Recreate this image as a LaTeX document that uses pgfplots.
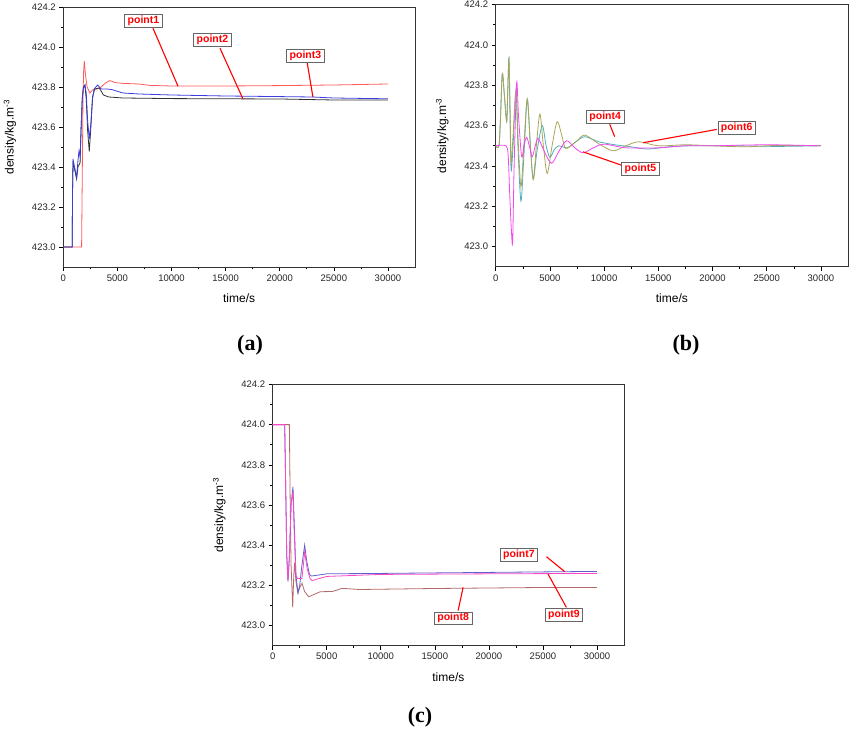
\documentclass[border=0pt]{standalone}
\usepackage{pgfplots}
\pgfplotsset{compat=1.18}
\usepackage{fontspec}
\setmainfont{Liberation Sans}
\newfontfamily\capfont{Liberation Serif}

\definecolor{cred}{RGB}{255,90,90}
\definecolor{cblue}{RGB}{60,60,225}
\definecolor{cblack}{RGB}{50,50,50}
\definecolor{colive}{RGB}{170,165,90}
\definecolor{cteal}{RGB}{80,175,185}
\definecolor{cmag}{RGB}{245,70,240}
\definecolor{cnavy}{RGB}{95,95,205}
\definecolor{cbrown}{RGB}{180,105,105}
\definecolor{cpink}{RGB}{255,70,200}

\pgfplotsset{panel/.style={
  scale only axis,
  xmin=0, xmax=32500, ymin=422.9, ymax=424.2,
  xtick={0,5000,10000,15000,20000,25000,30000},
  ytick={423,423.2,423.4,423.6,423.8,424,424.2},
  minor x tick num=1, minor y tick num=1,
  tick pos=left, tick align=outside,
  major tick length=4pt, minor tick length=2.5pt,
  tick style={black, line width=0.6pt},
  axis line style={line width=0.8pt, black!80},
  scaled ticks=false,
  x tick label style={/pgf/number format/1000 sep={}},
  y tick label style={/pgf/number format/.cd, fixed, fixed zerofill, precision=1},
  /pgf/number format/assume math mode=true,
  tick label style={font=\fontsize{9.5}{10}\selectfont, text=black!85},
  label style={font=\fontsize{12}{13}\selectfont},
  xlabel shift=6pt, ylabel shift=9pt,
  xlabel={time/s},
  ylabel={density/kg.m\textsuperscript{-3}},
  every axis plot/.append style={line width=0.8pt, mark=none},
}}
\tikzset{ptbox/.style={draw=black!60, fill=white, line width=0.7pt, text=red,
  font=\bfseries\fontsize{10.5}{12}\selectfont, inner xsep=3pt, inner ysep=1.5pt},
  ptline/.style={red, line width=1.1pt}}

\begin{document}
\begin{tikzpicture}[x=1pt,y=1pt]
\useasboundingbox (0,0) rectangle (850,736);

% (a)
\begin{axis}[panel, at={(63.3pt,469pt)}, anchor=south west, width=351.7pt, height=260pt]
\addplot[cred] coordinates {(0,423.0) (1690,423.0) (1760,423.4) (1820,423.75) (1880,423.88) (1940,423.93) (2050,423.86) (2200,423.8) (2460,423.77) (2700,423.785) (3100,423.79) (3500,423.8) (3900,423.82) (4300,423.832) (4800,423.822) (5500,423.818) (7000,423.815) (8000,423.808) (10000,423.805) (15000,423.805) (20000,423.807) (25000,423.81) (30000,423.815)};
\addplot[cblack] coordinates {(0,423.0) (820,423.0) (860,423.3) (900,423.43) (1000,423.4) (1230,423.34) (1350,423.4) (1450,423.41) (1550,423.42) (1650,423.6) (1750,423.74) (1850,423.8) (2000,423.81) (2120,423.74) (2250,423.58) (2400,423.477) (2550,423.6) (2700,423.75) (2900,423.79) (3300,423.795) (3500,423.78) (3700,423.76) (4200,423.75) (5500,423.745) (10000,423.742) (20000,423.74) (25000,423.735) (30000,423.735)};
\addplot[cblue] coordinates {(0,423.0) (820,423.0) (860,423.3) (900,423.44) (1000,423.41) (1230,423.35) (1350,423.43) (1450,423.48) (1550,423.45) (1650,423.6) (1750,423.74) (1850,423.79) (2000,423.81) (2120,423.77) (2250,423.63) (2400,423.54) (2550,423.62) (2700,423.74) (2850,423.79) (3170,423.81) (3500,423.79) (4000,423.79) (4500,423.787) (5500,423.77) (7000,423.765) (10000,423.76) (15000,423.755) (20000,423.752) (23000,423.75) (25000,423.745) (30000,423.741)};
\draw[ptline] (axis cs:8288,424.094) -- (axis cs:10598,423.804);
\draw[ptline] (axis cs:14478,423.994) -- (axis cs:16603,423.74);
\draw[ptline] (axis cs:22516,423.929) -- (axis cs:23070,423.749);
\node[ptbox] at (axis cs:7410,424.129) {point1};
\node[ptbox] at (axis cs:13785,424.034) {point2};
\node[ptbox] at (axis cs:22378,423.957) {point3};
\end{axis}

% (b)
\begin{axis}[panel, at={(495.7pt,469.1pt)}, anchor=south west, width=352.3pt, height=262.4pt]
\addplot[cteal, smooth] coordinates {(0,423.5) (300,423.5) (450,423.65) (610,423.858) (800,423.75) (1010,423.62) (1100,423.75) (1220,423.933) (1320,423.65) (1420,423.38) (1600,423.5) (1868,423.776) (2050,423.5) (2328,423.226) (2600,423.45) (2910,423.731) (3200,423.5) (3463,423.334) (3800,423.47) (4290,423.6) (4650,423.5) (4997,423.443) (5400,423.48) (5800,423.5) (6600,423.49) (7400,423.52) (8220,423.545) (9500,423.52) (11000,423.505) (12500,423.495) (14000,423.484) (16000,423.495) (18000,423.5) (22000,423.5) (26000,423.497) (30000,423.5)};
\addplot[colive, smooth] coordinates {(0,423.5) (300,423.5) (450,423.65) (610,423.858) (800,423.75) (1010,423.62) (1100,423.75) (1220,423.933) (1320,423.7) (1420,423.42) (1600,423.55) (1868,423.776) (2050,423.55) (2328,423.297) (2600,423.5) (2910,423.731) (3200,423.5) (3463,423.334) (3750,423.5) (4077,423.657) (4400,423.5) (4750,423.363) (5200,423.5) (5670,423.62) (6100,423.55) (6469,423.487) (7400,423.52) (8220,423.553) (9500,423.51) (10830,423.475) (12000,423.5) (13220,423.52) (15000,423.5) (17500,423.505) (20000,423.5) (23000,423.495) (26000,423.502) (30000,423.5)};
\addplot[cmag, smooth] coordinates {(0,423.5) (950,423.5) (1150,423.45) (1300,423.25) (1450,423.08) (1564,423.025) (1700,423.4) (1932,423.812) (2100,423.65) (2390,423.446) (2600,423.5) (2850,423.542) (3100,423.5) (3370,423.446) (3650,423.5) (3920,423.537) (4500,423.47) (5150,423.413) (5800,423.47) (6530,423.525) (7300,423.49) (8060,423.465) (9000,423.49) (10000,423.508) (12000,423.49) (15000,423.49) (17500,423.5) (20000,423.5) (25000,423.505) (30000,423.5)};
\draw[ptline] (axis cs:10518,423.607) -- (axis cs:10978,423.545);
\draw[ptline] (axis cs:20392,423.581) -- (axis cs:13583,423.515);
\draw[ptline] (axis cs:11595,423.404) -- (axis cs:8061,423.470);
\node[ptbox] at (axis cs:10104,423.644) {point4};
\node[ptbox] at (axis cs:22223,423.589) {point6};
\node[ptbox] at (axis cs:13352,423.387) {point5};
\end{axis}

% (c)
\begin{axis}[panel, at={(272.7pt,90.2pt)}, anchor=south west, width=351.3pt, height=261.4pt]
\addplot[cbrown] coordinates {(0,424.0) (1540,424.0) (1620,423.6) (1700,423.3) (1850,423.091) (1950,423.25) (2030,423.313) (2150,423.22) (2338,423.161) (2500,423.19) (2710,423.211) (2950,423.17) (3330,423.144) (3800,423.155) (4400,423.169) (5500,423.17) (6000,423.178) (6400,423.186) (8000,423.18) (15000,423.185) (25000,423.19) (30000,423.19)};
\addplot[cnavy] coordinates {(0,424.0) (1110,424.0) (1200,423.7) (1300,423.35) (1414,423.219) (1550,423.35) (1700,423.6) (1876,423.691) (2000,423.5) (2150,423.25) (2338,423.164) (2500,423.2) (2700,423.3) (2957,423.401) (3150,423.32) (3400,423.255) (3570,423.247) (4000,423.25) (5000,423.258) (10000,423.26) (20000,423.265) (30000,423.27)};
\addplot[cpink] coordinates {(0,424.0) (1110,424.0) (1200,423.7) (1300,423.35) (1414,423.225) (1550,423.35) (1700,423.6) (1876,423.667) (2000,423.45) (2150,423.25) (2300,423.235) (2700,423.235) (2800,423.28) (2957,423.368) (3200,423.28) (3450,423.235) (3650,423.224) (4000,423.23) (5000,423.245) (10000,423.255) (20000,423.258) (30000,423.26)};
\draw[ptline] (axis cs:25323,423.343) -- (axis cs:27015,423.269);
\draw[ptline] (axis cs:17153,423.075) -- (axis cs:17616,423.191);
\draw[ptline] (axis cs:27172,423.091) -- (axis cs:25471,423.257);
\node[ptbox] at (axis cs:22782,423.354) {point7};
\node[ptbox] at (axis cs:16691,423.037) {point8};
\node[ptbox] at (axis cs:26941,423.054) {point9};
\end{axis}

\node[font=\capfont\bfseries\fontsize{22}{24}\selectfont] at (250,391) {(a)};
\node[font=\capfont\bfseries\fontsize{22}{24}\selectfont] at (686,391) {(b)};
\node[font=\capfont\bfseries\fontsize{22}{24}\selectfont] at (420,19) {(c)};
\end{tikzpicture}
\end{document}
